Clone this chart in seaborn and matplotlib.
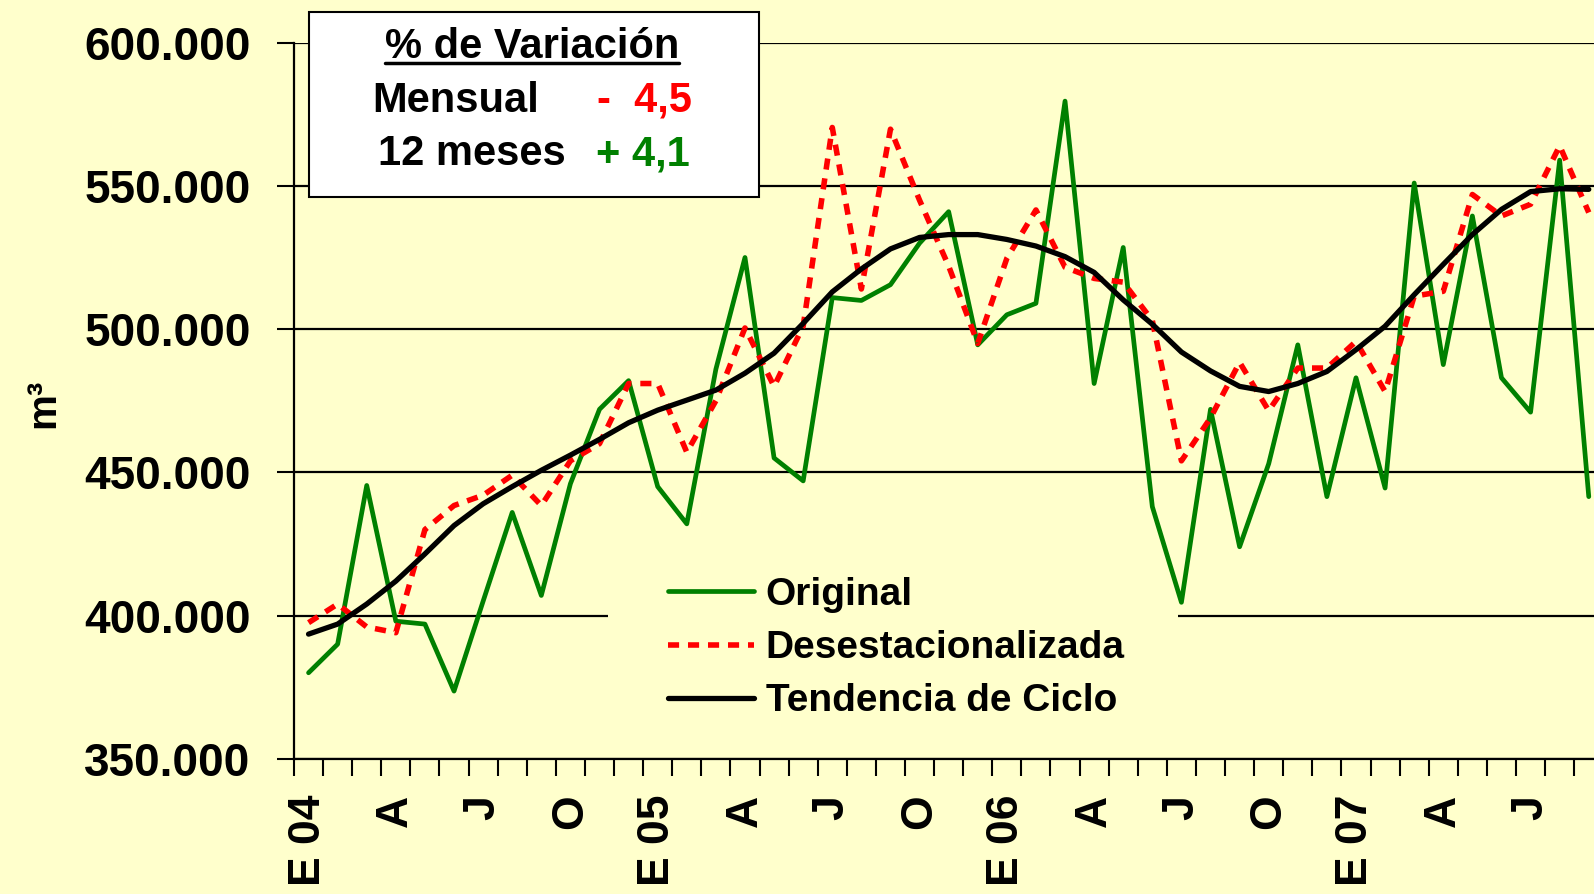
import numpy as np
import pandas as pd
import matplotlib.pyplot as plt
import seaborn as sns
from matplotlib.patches import Rectangle
from matplotlib.lines import Line2D

# Serie mensual (miles de m3), enero 2004 - septiembre 2007
original = [380.0, 390.0, 445.4, 398.0, 397.0, 373.6, 405.0, 436.0, 407.0, 446.0,
            472.0, 482.0, 445.0, 432.0, 486.0, 525.0, 455.0, 447.0, 511.0, 510.0,
            515.5, 530.0, 541.0, 494.5, 505.0, 509.0, 579.6, 481.0, 528.5, 438.0,
            404.6, 472.0, 424.0, 453.0, 494.5, 441.5, 483.0, 444.5, 551.0, 487.6,
            539.5, 483.0, 471.0, 559.0, 441.5]
desestacionalizada = [397.5, 404.0, 396.0, 394.0, 430.0, 438.4, 442.0, 449.0, 438.4, 454.0,
                      460.0, 481.0, 481.0, 457.0, 475.0, 500.4, 480.0, 501.0, 570.4, 514.0,
                      569.8, 545.0, 522.0, 495.0, 524.7, 541.6, 521.6, 517.7, 516.4, 503.0,
                      454.0, 469.0, 488.4, 471.5, 486.4, 486.4, 495.7, 478.2, 511.5, 513.2,
                      547.0, 539.5, 543.6, 564.0, 540.7]
tendencia = [393.5, 397.0, 404.0, 412.0, 421.5, 431.4, 439.0, 445.0, 450.7, 456.0,
             461.5, 467.3, 471.7, 475.2, 478.7, 484.6, 491.6, 502.0, 513.0, 521.0,
             528.0, 532.0, 533.0, 533.0, 531.3, 529.0, 525.3, 519.8, 510.2, 501.7,
             492.0, 485.4, 480.0, 478.2, 481.0, 485.2, 492.8, 501.0, 512.0, 522.6,
             533.0, 541.8, 548.0, 549.0, 548.8]

etiquetas_x = ['E 04', 'A', 'J', 'O', 'E 05', 'A', 'J', 'O',
               'E 06', 'A', 'J', 'O', 'E 07', 'A', 'J']
valores_y = [350000, 400000, 450000, 500000, 550000, 600000]
etiquetas_y = ['350.000', '400.000', '450.000', '500.000', '550.000', '600.000']

mes = np.arange(len(original))
df = pd.DataFrame({'mes': mes,
                   'Original': np.array(original) * 1000,
                   'Desestacionalizada': np.array(desestacionalizada) * 1000,
                   'Tendencia de Ciclo': np.array(tendencia) * 1000})

sns.set_style('white')
plt.rcParams['font.family'] = ['Liberation Sans', 'DejaVu Sans']
plt.rcParams['font.weight'] = 'bold'
plt.rcParams['text.color'] = 'black'
plt.rcParams['xtick.color'] = 'black'
plt.rcParams['ytick.color'] = 'black'
plt.rcParams['axes.labelcolor'] = 'black'
fondo = '#FFFFCC'

W, H = 1594, 894
fig = plt.figure(figsize=(W / 100, H / 100), dpi=100, facecolor=fondo)
ax = fig.add_axes([294 / W, (H - 758.7) / H, 1 - 294 / W, (758.7 - 42.7) / H])
ax.set_facecolor(fondo)

sns.lineplot(data=df, x='mes', y='Original', color='#008000', lw=3.4,
             label='Original', ax=ax)
sns.lineplot(data=df, x='mes', y='Desestacionalizada', color='#FF0000', lw=4,
             linestyle=(0, (2, 1.6)), label='Desestacionalizada', ax=ax)
sns.lineplot(data=df, x='mes', y='Tendencia de Ciclo', color='black', lw=3.8,
             label='Tendencia de Ciclo', ax=ax)

ax.set_xlim(-0.5, 44.18)
ax.set_ylim(350000, 600000)
ax.set_xlabel('')
ax.set_ylabel('')

ax.set_yticks(valores_y, etiquetas_y)
ax.set_xticks(np.arange(0, len(mes), 3), etiquetas_x, rotation=90)
ax.set_xticks(np.arange(-0.5, len(mes) - 1, 1), minor=True)
ax.tick_params(axis='x', which='major', bottom=True, length=0, pad=26,
               labelsize=32, labelcolor='black')
ax.tick_params(axis='x', which='minor', bottom=True, length=12.2, width=1.5,
               direction='out', color='black')
ax.tick_params(axis='y', left=True, length=12.2, width=1.5, direction='out',
               color='black', pad=19, labelsize=33, labelcolor='black')

ax.grid(axis='y', color='black', lw=1.6)
ax.set_axisbelow(True)
for s in ['top', 'right']:
    ax.spines[s].set_visible(False)
for s in ['left', 'bottom']:
    ax.spines[s].set_color('black')
    ax.spines[s].set_linewidth(1.6)

# el fondo de la leyenda tapa la linea de 400.000
ax.add_patch(Rectangle((10.29, 394000), 19.59, 12000, facecolor=fondo,
                       edgecolor='none', zorder=1))

ax.legend(loc='upper left', bbox_to_anchor=(633 / W, 1 - 542 / H),
          bbox_transform=fig.transFigure, frameon=False,
          prop={'family': 'Liberation Sans', 'weight': 'bold', 'size': 28},
          handlelength=2.21, handletextpad=0.3, labelspacing=0.44)

fig.text(43 / W, 1 - 403 / H, 'm³', rotation=90, ha='center', va='center',
         fontsize=29, fontweight='bold')

# cuadro de variaciones
fig.add_artist(Rectangle((309 / W, 1 - 197.3 / H), 449.6 / W, 185.1 / H,
                         transform=fig.transFigure, facecolor='white',
                         edgecolor='black', lw=1.5, zorder=5))
titulo = fig.text(532 / W, 1 - 58 / H, '% de Variación', ha='center',
                  va='baseline', fontsize=30, fontweight='bold', zorder=6)
fig.text(372 / W, 1 - 112 / H, 'Mensual', ha='left', va='baseline',
         fontsize=30, fontweight='bold', zorder=6)
fig.text(597 / W, 1 - 112 / H, '-  4,5', ha='left', va='baseline',
         fontsize=30, fontweight='bold', color='#FF0000', zorder=6)
fig.text(378 / W, 1 - 165 / H, '12 meses', ha='left', va='baseline',
         fontsize=30, fontweight='bold', zorder=6)
fig.text(596 / W, 1 - 165 / H, '+ 4,1', ha='left', va='baseline',
         fontsize=30, fontweight='bold', color='#008000', zorder=6)

fig.canvas.draw()
bb = titulo.get_window_extent()
fig.add_artist(Line2D([bb.x0 / W, bb.x1 / W], [1 - 63 / H, 1 - 63 / H],
                      transform=fig.transFigure, color='black', lw=2.5, zorder=6))

fig.savefig('out.png', dpi=100, facecolor=fondo)
